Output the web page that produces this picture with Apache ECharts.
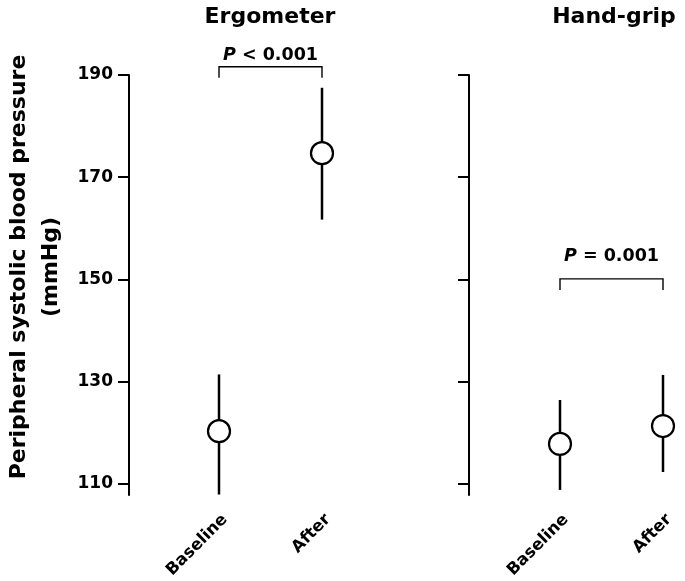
<!DOCTYPE html>
<html>
<head>
<meta charset="utf-8">
<script src="https://cdn.jsdelivr.net/npm/echarts@6/dist/echarts.min.js"></script>
<style>html,body{margin:0;padding:0;background:#fff;}#c{width:685px;height:581px;}</style>
</head>
<body>
<div id="c"></div>
<script>
const categories = ['Baseline', 'After'];
const panelTitles = ['Ergometer', 'Hand-grip'];
const ergoMean = [120.3, 174.7];
const ergoLow = [107.9, 161.7];
const ergoHigh = [131.4, 187.5];
const gripMean = [117.8, 121.3];
const gripLow = [108.8, 112.3];
const gripHigh = [126.4, 131.3];
const yTicks = [110, 130, 150, 170, 190];
const pLabels = ['< 0.001', '= 0.001'];
const bracketLevels = [191.6, 150.1];
const yName = 'Peripheral systolic blood pressure\n(mmHg)';

const FONT = 'DejaVu Sans';
const panels = [
  {mean: ergoMean, low: ergoLow, high: ergoHigh, gridLeft: 219, axisX: 129, titleX: 265, textGap: 11},
  {mean: gripMean, low: gripLow, high: gripHigh, gridLeft: 560, axisX: 469, titleX: 609, textGap: 22}
];

const grid = [], xAxis = [], yAxis = [], series = [], title = [];
panels.forEach((p, k) => {
  grid.push({left: p.gridLeft, top: 75, width: 103, height: 422});
  title.push({
    text: panelTitles[k], left: p.titleX, top: 1, textAlign: 'center',
    textStyle: {fontFamily: FONT, fontWeight: 'bold', fontSize: 22, color: '#000'}
  });
  xAxis.push({
    type: 'category', gridIndex: k, data: categories, boundaryGap: false,
    axisLine: {show: false}, axisTick: {show: false},
    axisLabel: {rotate: 45, margin: 16, verticalAlign: 'top', fontFamily: FONT, fontWeight: 'bold', fontSize: 16.5, color: '#000'}
  });
  yAxis.push({
    type: 'value', gridIndex: k, min: 107.8, max: 190, offset: p.gridLeft - p.axisX,
    splitLine: {show: false},
    axisLine: {show: true, lineStyle: {color: '#000', width: 2}},
    axisTick: {show: true, length: 11, lineStyle: {color: '#000', width: 2}, customValues: yTicks},
    axisLabel: {show: k === 0, customValues: yTicks, margin: 16, fontFamily: FONT, fontWeight: 'bold', fontSize: 17, color: '#000'}
  });
  series.push({
    type: 'custom', xAxisIndex: k, yAxisIndex: k, clip: false, z: 2,
    data: categories.map((c, i) => [i, p.low[i], p.high[i]]),
    renderItem: function (params, api) {
      const a = api.coord([api.value(0), api.value(1)]);
      const b = api.coord([api.value(0), api.value(2)]);
      return {type: 'line', shape: {x1: a[0], y1: a[1], x2: b[0], y2: b[1]}, style: {stroke: '#000', lineWidth: 2.5}};
    }
  });
  series.push({
    type: 'scatter', xAxisIndex: k, yAxisIndex: k, z: 5, clip: false,
    symbol: 'circle', symbolSize: 22,
    itemStyle: {color: '#fff', borderColor: '#000', borderWidth: 2.2, opacity: 1},
    data: categories.map((c, i) => [i, p.mean[i]])
  });
  series.push({
    type: 'custom', xAxisIndex: k, yAxisIndex: k, clip: false, z: 3,
    data: [[0, 1, bracketLevels[k]]],
    renderItem: function (params, api) {
      const a = api.coord([api.value(0), api.value(2)]);
      const b = api.coord([api.value(1), api.value(2)]);
      return {type: 'group', children: [
        {type: 'polyline', shape: {points: [[a[0], a[1] + 11], [a[0], a[1]], [b[0], b[1]], [b[0], b[1] + 11]]},
         style: {stroke: '#000', lineWidth: 1.4, fill: null}},
        {type: 'text', x: (a[0] + b[0]) / 2, y: a[1] - p.textGap,
         style: {text: '{i|P}{n| ' + pLabels[k] + '}', align: 'center', verticalAlign: 'middle',
           rich: {
             i: {fontFamily: FONT, fontWeight: 'bold', fontStyle: 'italic', fontSize: 17.5, fill: '#000'},
             n: {fontFamily: FONT, fontWeight: 'bold', fontSize: 17.5, fill: '#000'}
           }}}
      ]};
    }
  });
});

const chart = echarts.init(document.getElementById('c'), null, {renderer: 'canvas'});
chart.setOption({
  animation: false,
  backgroundColor: '#fff',
  title: title,
  grid: grid, xAxis: xAxis, yAxis: yAxis, series: series,
  graphic: [{
    type: 'text', x: 35, y: 267, rotation: Math.PI / 2,
    style: {text: yName, align: 'center', verticalAlign: 'middle', lineHeight: 32,
      fontFamily: FONT, fontWeight: 'bold', fontSize: 22, fill: '#000'}
  }]
});
</script>
</body>
</html>
